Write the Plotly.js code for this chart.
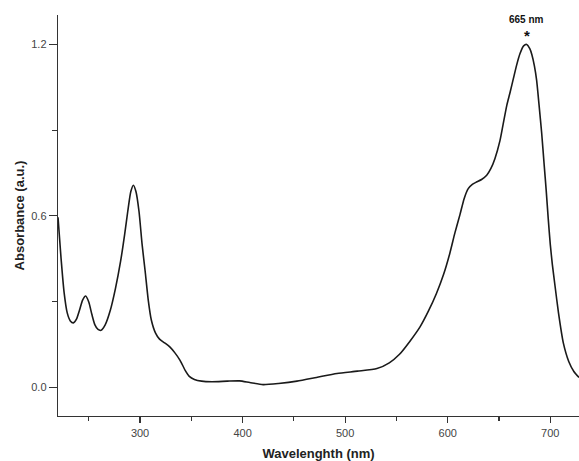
<!DOCTYPE html>
<html>
<head>
<meta charset="utf-8">
<script src="https://cdn.plot.ly/plotly-3.0.1.min.js"></script>
<style>html,body{margin:0;padding:0;background:#fff;}#chart{width:579px;height:461px;}</style>
</head>
<body>
<div id="chart"></div>
<script>
const wavelength = [220,223,226,229,232,235,238,241,244,247,250,253,256,259,262,266,271,276,281,285,288,291,293.5,296,299,302,305,308,311,315,319,324,329,334,339,344,348,353,360,370,385,397,407,420,435,453,472,492,512,531,543,553,563,573,581,589,596,602,607,612,616,620,624,628,633,638,642,646,651,654,657.5,661,664,667,670.5,674,677,680,682,684.5,686.7,689,691.6,694,696,698,700,702,704.6,708,712.7,718,723,728];
const absorbance = [0.595,0.45,0.33,0.26,0.232,0.225,0.238,0.27,0.305,0.319,0.298,0.255,0.218,0.202,0.199,0.218,0.269,0.345,0.44,0.535,0.615,0.685,0.707,0.685,0.615,0.5,0.405,0.305,0.235,0.19,0.168,0.155,0.141,0.12,0.094,0.059,0.038,0.027,0.021,0.019,0.021,0.022,0.016,0.009,0.013,0.021,0.034,0.048,0.056,0.065,0.085,0.115,0.16,0.211,0.265,0.328,0.395,0.468,0.54,0.605,0.66,0.695,0.71,0.718,0.727,0.742,0.765,0.80,0.864,0.92,0.985,1.035,1.08,1.125,1.168,1.195,1.20,1.185,1.165,1.125,1.074,0.99,0.89,0.78,0.69,0.59,0.50,0.43,0.355,0.26,0.155,0.09,0.055,0.034];
const peakWavelength = [677];
const peakAbsorbance = [1.20];
const peakLabel = ["665 nm"];
const xTickVals = [300,400,500,600,700];
const xMinorVals = [250,350,450,550,650];
const yTickVals = [0.0,0.6,1.2];
const yTickText = ["0.0","0.6","1.2"];
const yMinorVals = [0.3,0.9];

const trace = {
  x: wavelength, y: absorbance, type: 'scatter', mode: 'lines',
  line: {color: '#1a1a1a', width: 1.6, shape: 'spline', smoothing: 0.6},
  hoverinfo: 'skip'
};

const layout = {
  width: 579, height: 461,
  margin: {l: 58, r: 0, t: 15, b: 45},
  paper_bgcolor: '#fff', plot_bgcolor: '#fff',
  showlegend: false,
  font: {family: 'Liberation Sans, Arial, sans-serif', color: '#444', size: 11},
  xaxis: {
    range: [220, 728], showgrid: false, zeroline: false,
    showline: true, linecolor: '#333', linewidth: 1.3,
    ticks: 'outside', ticklen: 6, tickwidth: 1.2, tickcolor: '#333',
    tickvals: xTickVals,
    minor: {tickvals: xMinorVals, ticks: 'outside', ticklen: 4, tickwidth: 1.2, tickcolor: '#333'},
    tickfont: {size: 11, color: '#444'},
    title: {text: '<b>Wavelenghth (nm)</b>', font: {size: 13, color: '#222'}, standoff: 11}
  },
  yaxis: {
    range: [-0.101, 1.303], showgrid: false, zeroline: false,
    showline: true, linecolor: '#333', linewidth: 1.3,
    ticks: 'outside', ticklen: 8, tickwidth: 1.2, tickcolor: '#333',
    tickvals: yTickVals, ticktext: yTickText,
    minor: {tickvals: yMinorVals, ticks: 'outside', ticklen: 5, tickwidth: 1.2, tickcolor: '#333'},
    tickfont: {size: 11, color: '#444'},
    title: {text: '<b>Absorbance (a.u.)</b>', font: {size: 13, color: '#222'}, standoff: 3}
  },
  annotations: [
    {x: peakWavelength[0], y: peakAbsorbance[0], xref: 'x', yref: 'y', text: '<b>*</b>',
     showarrow: false, yanchor: 'bottom', yshift: -2, font: {size: 15, color: '#111'}},
    {x: peakWavelength[0], y: peakAbsorbance[0], xref: 'x', yref: 'y', text: '<b>' + peakLabel[0] + '</b>',
     showarrow: false, yanchor: 'bottom', yshift: 17, font: {size: 10, color: '#111'}}
  ]
};

Plotly.newPlot('chart', [trace], layout, {displayModeBar: false, staticPlot: true});
</script>
</body>
</html>
